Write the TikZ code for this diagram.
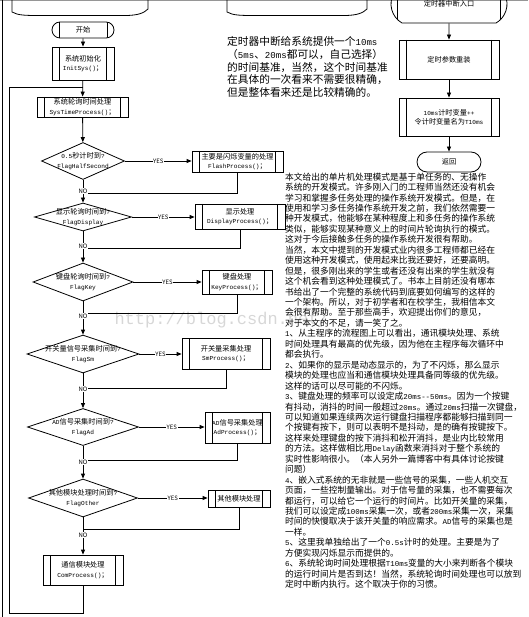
\documentclass[tikz,border=0pt]{standalone}
\usepackage{fontspec}
\setmainfont{Noto Sans CJK SC}
\newfontfamily\wmfont{Liberation Mono}
\newfontfamily\ascfont[Scale=0.85]{Liberation Mono}
\usetikzlibrary{arrows.meta, positioning, shapes.geometric, shapes.misc, calc}
\usepackage{xcolor}
\definecolor{wmgray}{RGB}{215,215,215}
\definecolor{framegray}{RGB}{150,150,150}
\newcommand{\flowfont}{\fontsize{7.2}{9.4}\selectfont}
\newcommand{\tagfont}{\fontsize{6}{7}\selectfont}
\newcommand{\asc}[1]{{\ascfont #1}}
\tikzset{
  proc/.style  = {draw, line width=0.8pt, inner sep=0pt, align=center, font=\flowfont,
                  path picture={\draw[line width=0.8pt]
                    ([xshift=7.5pt]path picture bounding box.north west) --
                    ([xshift=7.5pt]path picture bounding box.south west)
                    ([xshift=-7.5pt]path picture bounding box.north east) --
                    ([xshift=-7.5pt]path picture bounding box.south east);}},
  term/.style  = {rounded rectangle, draw, line width=0.8pt, inner sep=0pt,
                  align=center, font=\flowfont},
  tbar/.style  = {term,
                  path picture={\draw[line width=0.8pt]
                    ([xshift=#1]path picture bounding box.north west) --
                    ([xshift=#1]path picture bounding box.south west)
                    ([xshift=-#1]path picture bounding box.north east) --
                    ([xshift=-#1]path picture bounding box.south east);}},
  dia/.style   = {diamond, draw, line width=0.8pt, inner sep=0pt},
  dtext/.style = {align=center, font=\flowfont, inner sep=0pt},
  arrow/.style = {-{Triangle[length=5pt, width=4pt]}, line width=0.8pt},
  wire/.style  = {line width=0.8pt},
}

\begin{document}
\begin{tikzpicture}[
    x=1pt, y=-1pt,
    yeslab/.style={font=\tagfont, fill=white, inner sep=0.6pt},
    nolab/.style ={font=\tagfont, fill=white, inner sep=0.3pt},
    note/.style  ={align=left, inner sep=0pt, anchor=north west},
    wmark/.style ={font=\wmfont\fontsize{17}{17}\selectfont, text=wmgray, anchor=west}
]
\useasboundingbox (0,0) rectangle (528,617);
\clip (0,0) rectangle (528,617);

% frame and watermark
\draw[framegray, line width=0.6pt] (0,0.3) -- (528,0.3);
\draw[line width=1pt] (2,0) -- (2,617);
\node[wmark] (wm) at (111,320) {http://blog.csdn.net/};

% cut-off documents at the top
\draw[wire] (12,-2) -- (12,12) .. controls (18,15.5) and (26,15.5) .. (40,15.5)
  -- (125,15.5) .. controls (138,15.5) and (144,13) .. (148,9) -- (148,-2);
\draw[wire] (227,-2) -- (227,12) .. controls (233,15.5) and (241,15.5) .. (255,15.5)
  -- (344,15.5) .. controls (357,15.5) and (363,13) .. (367,9) -- (367,-2);

% main loop
\node[tbar=7pt, minimum width=62pt, minimum height=16pt] (start) at (83,30) {开始};
\node[proc, minimum width=62pt, minimum height=33pt] (init) at (83,63.5)
  {系统初始化\\\asc{InitSys()}；};
\node[proc, minimum width=91pt, minimum height=20pt] (sys) at (82.5,107)
  {系统轮询时间处理\\\asc{SysTimeProcess()}；};

% decisions
\node[dia, minimum width=83pt, minimum height=37pt,
  label={[dtext]center:{\asc{0.5}秒计时到\asc{?}\\\asc{FlagHalfSecond}}}] (d1) at (83,161) {};
\node[dia, minimum width=97pt, minimum height=28pt,
  label={[dtext]center:{显示轮询时间到\asc{?}\\\asc{FlagDisplay}}}] (d2) at (83,217) {};
\node[dia, minimum width=100pt, minimum height=38pt,
  label={[dtext]center:{键盘轮询时间到\asc{?}\\\asc{FlagKey}}}] (d3) at (83,282) {};
\node[dia, minimum width=112pt, minimum height=38pt,
  label={[dtext]center:{开关量信号采集时间到\asc{?}\\\asc{FlagSm}}}] (d4) at (83,354) {};
\node[dia, minimum width=111pt, minimum height=37pt,
  label={[dtext]center:{\asc{AD}信号采集时间到\asc{?}\\\asc{FlagAd}}}] (d5) at (83,427) {};
\node[dia, minimum width=109pt, minimum height=38pt,
  label={[dtext]center:{其他模块处理时间到\asc{?}\\\asc{FlagOther}}}] (d6) at (83,498) {};

% module boxes
\node[proc, minimum width=91pt, minimum height=21pt] (flash) at (237.5,161.5)
  {主要是闪烁变量的处理\\\asc{FlashProcess()}；};
\node[proc, minimum width=90pt, minimum height=25pt] (disp) at (240,216.5)
  {显示处理\\\asc{DisplayProcess()}；};
\node[proc, minimum width=70pt, minimum height=24pt] (key) at (237,282)
  {键盘处理\\\asc{KeyProcess()}；};
\node[proc, minimum width=88pt, minimum height=31pt] (sm) at (226,353.5)
  {开关量采集处理\\\asc{SmProcess()}；};
\node[proc, minimum width=65pt, minimum height=31pt] (ad) at (237.5,427.5)
  {\asc{AD}信号采集处理\\\asc{AdProcess()}；};
\node[proc, minimum width=62pt, minimum height=17pt] (other) at (239,498.5)
  {其他模块处理};
\node[proc, minimum width=80pt, minimum height=30pt] (com) at (83,570)
  {通信模块处理\\\asc{ComProcess()}；};

% merge points
\coordinate (m1) at (83,193);
\coordinate (m2) at (83,248);
\coordinate (m3) at (83,313);
\coordinate (m4) at (83,388);
\coordinate (m5) at (83,460);
\coordinate (m6) at (83,529);
\coordinate (join) at (83,87);
\coordinate (loopb) at (83,613);
\coordinate (loopt) at (9,87);

% flow
\draw[arrow] (start) -- (init);
\draw[arrow] (init) -- (sys);
\draw[arrow] (sys) -- (d1);
\draw[arrow] (d1) -- (d2);
\draw[arrow] (d2) -- (d3);
\draw[arrow] (d3) -- (d4);
\draw[arrow] (d4) -- (d5);
\draw[arrow] (d5) -- (d6);
\draw[arrow] (d6) -- (com);
\draw[wire] (com) -- (loopb) -| (loopt) -- (join);

\foreach \d/\p in {d1/flash, d2/disp, d3/key, d4/sm, d5/ad, d6/other} {
    \draw[arrow] (\d.east) -- node[yeslab] {YES} (\d.east -| \p.west);
}
\foreach \p/\m in {flash/m1, disp/m2, key/m3, sm/m4, ad/m5, other/m6} {
    \draw[wire] (\p.south) |- (\m);
}

% NO labels
\node[nolab] (n1) at (83,191) {NO};
\node[nolab] (n2) at (83,246) {NO};
\node[nolab] (n3) at (83,316) {NO};
\node[nolab] (n4) at (83,389) {NO};
\node[nolab] (n5) at (83,462) {NO};
\node[nolab] (n6) at (83,535) {NO};

% timer interrupt
\node[tbar=10pt, rounded rectangle arc length=120, minimum width=116pt,
  minimum height=38pt] (irq) at (449,4) {定时器中断入口};
\node[proc, minimum width=100pt, minimum height=39pt] (reload) at (449,59.5)
  {定时参数重装};
\node[proc, minimum width=100pt, minimum height=38pt] (tick) at (449,117)
  {\asc{10ms}计时变量\asc{++}\\令计时变量名为\asc{T10ms}};
\node[term, minimum width=64pt, minimum height=20pt] (ret) at (449,162) {返回};
\draw[arrow] (irq) -- (reload);
\draw[arrow] (reload) -- (tick);
\draw[arrow] (tick) -- (ret);

% texts
\node[note, font=\fontsize{10.7}{12.7}\selectfont] (basis) at (227,36.5)
  {定时器中断给系统提供一个\asc{10ms}\\
   （\asc{5ms}、\asc{20ms}都可以，自己选择）\\
   的时间基准，当然，这个时间基准\\
   在具体的一次看来不需要很精确，\\
   但是整体看来还是比较精确的。};

\node[note, font=\fontsize{8.75}{10.45}\selectfont] (desc) at (285,172.5)
  {本文给出的单片机处理模式是基于单任务的、无操作\\
   系统的开发模式。许多刚入门的工程师当然还没有机会\\
   学习和掌握多任务处理的操作系统开发模式。但是，在\\
   使用和学习多任务操作系统开发之前，我们依然需要一\\
   种开发模式，他能够在某种程度上和多任务的操作系统\\
   类似，能够实现某种意义上的时间片轮询执行的模式。\\
   这对于今后接触多任务的操作系统开发很有帮助。\\
   当然，本文中提到的开发模式业内很多工程师都已经在\\
   使用这种开发模式，使用起来比我还要好，还要高明。\\
   但是，很多刚出来的学生或者还没有出来的学生就没有\\
   这个机会看到这种处理模式了。书本上目前还没有哪本\\
   书给出了一个完整的系统代码到底要如何编写的这样的\\
   一个架构。所以，对于初学者和在校学生，我相信本文\\
   会很有帮助。至于那些高手，欢迎提出你们的意见，\\
   对于本文的不足，请一笑了之。\\
   \asc{1}、从主程序的流程图上可以看出，通讯模块处理、系统\\
   时间处理具有最高的优先级，因为他在主程序每次循环中\\
   都会执行。\\
   \asc{2}、如果你的显示是动态显示的，为了不闪烁，那么显示\\
   模块的处理也应当和通信模块处理具备同等级的优先级。\\
   这样的话可以尽可能的不闪烁。\\
   \asc{3}、键盘处理的频率可以设定成\asc{20ms{-}{-}50ms}。因为一个按键\\
   有抖动，消抖的时间一般超过\asc{20ms}。通过\asc{20ms}扫描一次键盘，\\
   可以知道如果连续两次运行键盘扫描程序都能够扫描到同一\\
   个按键有按下，则可以表明不是抖动，是的确有按键按下。\\
   这样来处理键盘的按下消抖和松开消抖，是业内比较常用\\
   的方法。这样做相比用\asc{Delay}函数来消抖对于整个系统的\\
   实时性影响很小。（本人另外一篇博客中有具体讨论按键\\
   问题）\\
   \asc{4}、嵌入式系统的无非就是一些信号的采集，一些人机交互\\
   页面，一些控制量输出。对于信号量的采集，也不需要每次\\
   都运行，可以给它一个运行的时间片。比如开关量的采集，\\
   我们可以设定成\asc{100ms}采集一次，或者\asc{200ms}采集一次，采集\\
   时间的快慢取决于该开关量的响应需求。\asc{AD}信号的采集也是\\
   一样。\\
   \asc{5}、这里我单独给出了一个\asc{0.5s}计时的处理。主要是为了\\
   方便实现闪烁显示而提供的。\\
   \asc{6}、系统轮询时间处理根据\asc{T10ms}变量的大小来判断各个模块\\
   的运行时间片是否到达！当然，系统轮询时间处理也可以放到\\
   定时中断内执行。这个取决于你的习惯。};

\end{tikzpicture}
\end{document}
